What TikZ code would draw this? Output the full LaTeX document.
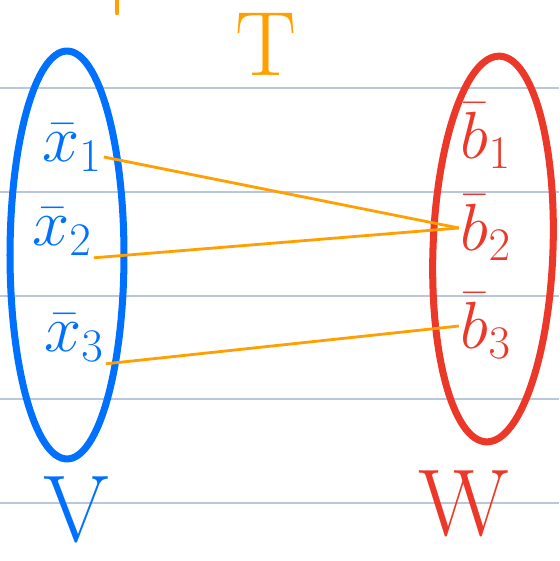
\RequirePackage{fix-cm}
\documentclass[tikz,border=0pt]{standalone}
\usepackage{tikz}
\usetikzlibrary{shapes.geometric}

\definecolor{penblue}{RGB}{0,112,255}
\definecolor{penred}{RGB}{236,56,40}
\definecolor{penorange}{RGB}{255,160,0}
\definecolor{ruling}{RGB}{184,198,222}

\begin{document}
\begin{tikzpicture}[
    x=0.02cm,
    y=-0.02cm,
    set/.style={
        ellipse,
        draw,
        line width=4pt,
        inner sep=0pt
    },
    element/.style={
        inner sep=1pt,
        font=\fontsize{38}{42}\selectfont
    },
    setname/.style={
        inner sep=0pt,
        font=\fontsize{54}{58}\selectfont
    },
    mapping/.style={
        -,
        penorange,
        line width=1.6pt
    },
    rule/.style={
        ruling,
        line width=0.6pt
    }
]

\useasboundingbox (0,0) rectangle (559,561);

% ruled paper
\foreach \y in {88,192,296,399,503}
    \draw[rule] (0,\y) -- (559,\y);

% the two sets
\node[set,penblue,minimum width=2.28cm,minimum height=8.16cm] (Vset) at (67,255) {};
\node[set,penred,minimum width=2.4cm,minimum height=7.72cm,rotate=-2] (Wset) at (493,249) {};

% elements
\node[element,penblue] (x1) at (72,148) {$\bar{x}_{1}$};
\node[element,penblue] (x2) at (62,232) {$\bar{x}_{2}$};
\node[element,penblue] (x3) at (74,338) {$\bar{x}_{3}$};

\node[element,penred] (b1) at (486,136) {$\bar{b}_{1}$};
\node[element,penred] (b2) at (486,228) {$\bar{b}_{2}$};
\node[element,penred] (b3) at (486,326) {$\bar{b}_{3}$};

% set names
\node[setname,penblue] (V) at (76,510) {V};
\node[setname,penred] (W) at (464,504) {W};
\node[setname,penorange,font=\fontsize{52}{56}\selectfont] (T) at (266,44) {T};
\coordinate (tickA) at (117,0);
\coordinate (tickB) at (117,13);
\draw[penorange,line width=2.5pt,line cap=round] (tickA) -- (tickB);

% the map T
\draw[mapping] ([yshift=-0.18cm]x1.east) -- (b2.west);
\draw[mapping] (x2.south east) -- (b2.west);
\draw[mapping] (x3.south east) -- (b3.west);

\end{tikzpicture}
\end{document}
